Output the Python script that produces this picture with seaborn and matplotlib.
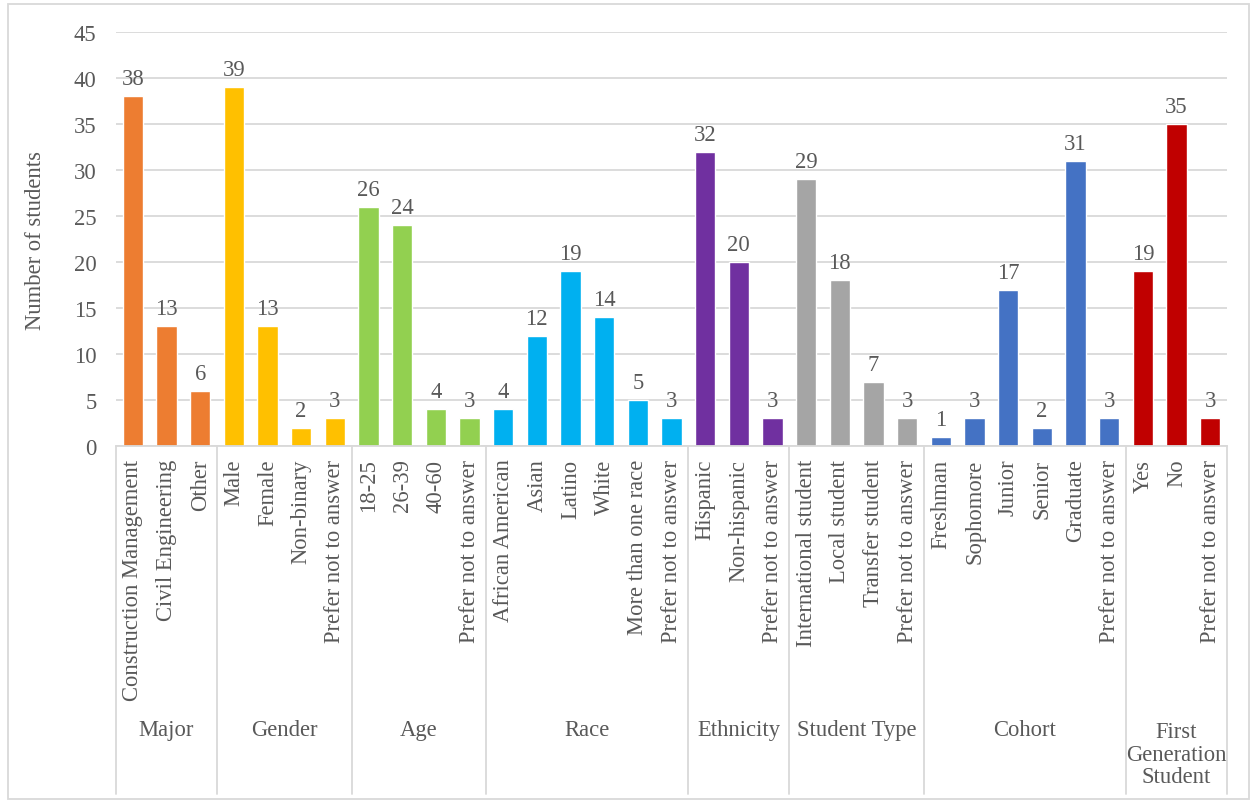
import matplotlib
matplotlib.use("Agg")
import matplotlib.pyplot as plt
import matplotlib.transforms as mtransforms
import seaborn as sns
import pandas as pd

groups = ["Major", "Gender", "Age", "Race", "Ethnicity", "Student Type", "Cohort",
          "First\nGeneration\nStudent"]
categories = [
    ["Construction Management", "Civil Engineering", "Other"],
    ["Male", "Female", "Non-binary", "Prefer not to answer"],
    ["18-25", "26-39", "40-60", "Prefer not to answer"],
    ["African American", "Asian", "Latino", "White", "More than one race", "Prefer not to answer"],
    ["Hispanic", "Non-hispanic", "Prefer not to answer"],
    ["International student", "Local student", "Transfer student", "Prefer not to answer"],
    ["Freshman", "Sophomore", "Junior", "Senior", "Graduate", "Prefer not to answer"],
    ["Yes", "No", "Prefer not to answer"],
]
values = [
    [38, 13, 6],
    [39, 13, 2, 3],
    [26, 24, 4, 3],
    [4, 12, 19, 14, 5, 3],
    [32, 20, 3],
    [29, 18, 7, 3],
    [1, 3, 17, 2, 31, 3],
    [19, 35, 3],
]
colors = ["#ED7D31", "#FFC000", "#92D050", "#00B0F0", "#7030A0", "#A5A5A5", "#4472C4", "#C00000"]

rows = []
for g, cats, vals in zip(groups, categories, values):
    for c, v in zip(cats, vals):
        rows.append({"group": g, "label": c, "value": v})
df = pd.DataFrame(rows)
df["key"] = [str(i) for i in range(len(df))]

sns.set_theme(style="white")
plt.rcParams["font.family"] = ["Liberation Serif", "DejaVu Serif"]
text_color = "#595959"
fs = 16.3

fig = plt.figure(figsize=(12.55, 8.03), dpi=100)
ax = fig.add_axes([0.0924, 0.4433, 0.8853, 0.5156])

sns.barplot(data=df, x="key", y="value", hue="group", order=list(df["key"]),
            hue_order=groups, palette=colors, dodge=False, width=0.6,
            legend=False, ax=ax, saturation=1)

for cont in ax.containers:
    ax.bar_label(cont, padding=5, fontsize=fs, color=text_color)

ax.set_ylim(0, 45)
ax.set_yticks(range(0, 46, 5))
ax.set_xlim(-0.5, len(df) - 0.5)
ax.yaxis.grid(True, color="#D9D9D9", linewidth=1.3)
ax.set_axisbelow(True)
for s in ["top", "right", "left"]:
    ax.spines[s].set_visible(False)
ax.spines["bottom"].set_color("#D9D9D9")
ax.spines["bottom"].set_linewidth(1.3)

ax.set_xticks(range(len(df)))
ax.set_xticklabels(df["label"], rotation=90, va="top", ha="center",
                   fontsize=fs, color=text_color)
ax.tick_params(axis="x", length=0, pad=9)
ax.tick_params(axis="y", length=0, pad=14, labelsize=fs, labelcolor=text_color)
ax.set_xlabel("")
ax.set_ylabel("Number of students", fontsize=fs, color=text_color, labelpad=20)

# group separators and labels
trans = mtransforms.blended_transform_factory(ax.transData, ax.transAxes)
bottom = -(795 - 447) / 414.0
start = 0
bounds = [-0.5]
for g, cats in zip(groups, categories):
    n = len(cats)
    center = start + (n - 1) / 2
    ypix = 755 if "\n" in g else 730
    ax.text(center, -(ypix - 447) / 414.0, g, transform=trans, ha="center", va="center",
            fontsize=fs, color=text_color, linespacing=1.1)
    start += n
    bounds.append(start - 0.5)
for b in bounds:
    ax.plot([b, b], [0, bottom], transform=trans, color="#D9D9D9",
            linewidth=1.3, clip_on=False)

# outer border
fig.patches.append(plt.Rectangle((0.006, 0.004), 0.989, 0.99, transform=fig.transFigure,
                                 fill=False, edgecolor="#D9D9D9", linewidth=1.3))

fig.savefig("out.png", dpi=100)
